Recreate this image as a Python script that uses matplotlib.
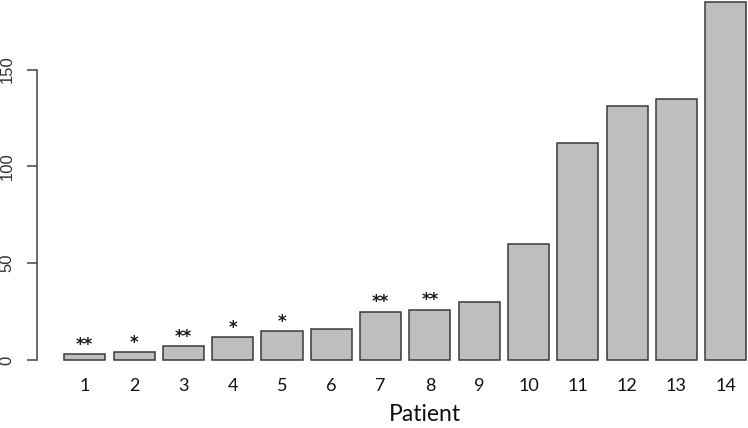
import matplotlib
matplotlib.use("Agg")
import matplotlib.pyplot as plt
import numpy as np

patients = [str(i) for i in range(1, 15)]
values = [3, 4, 7, 12, 15, 16, 25, 26, 30, 60, 112, 131, 135, 185]
stars = ["**", "*", "**", "*", "*", "", "**", "**", "", "", "", "", "", ""]
yticks = [0, 50, 100, 150]

W, H = 748, 428
fig = plt.figure(figsize=(W / 100, H / 100), dpi=100)

# axes placed in pixel terms (R-style barplot, width 1, space 0.2)
x0, x1 = 37, 748
y_zero, px_per_unit = 360, 1.936
ymin, ymax = -7.4, y_zero / px_per_unit
ax_bottom = y_zero + (-ymin) * px_per_unit
ax = fig.add_axes([x0 / W, 1 - ax_bottom / H, (x1 - x0) / W, ax_bottom / H])

centers = 0.7 + 1.2 * np.arange(len(values))
ax.bar(centers, values, width=1.0, color="#bebebe", edgecolor="#3a3a3a", linewidth=1.1)
ax.set_xlim(-0.464, -0.464 + (x1 - x0) / 41.08)
ax.set_ylim(ymin, ymax)

for c, v, s in zip(centers, values, stars):
    if s:
        ax.annotate(s, (c, v), xytext=(0, 3), textcoords="offset points",
                    ha="center", va="baseline", fontsize=12, family="DejaVu Sans",
                    fontweight="bold", color="#1a1a1a")

for side in ["top", "right", "bottom"]:
    ax.spines[side].set_visible(False)
ax.spines["left"].set_bounds(0, 150)
ax.spines["left"].set_color("#444444")
ax.spines["left"].set_linewidth(1.1)

ax.set_yticks(yticks)
ax.set_yticklabels([str(t) for t in yticks], rotation=90, va="center",
                   fontsize=12, family="Liberation Sans", color="#333333")
ax.tick_params(axis="y", length=7, width=1.1, color="#444444", pad=9)

ax.set_xticks(centers)
ax.set_xticklabels(patients, fontsize=13, family="Lato", color="#111111")
ax.tick_params(axis="x", length=0, pad=3)

fig.text(425 / W, 1 - 404 / H, "Patient", ha="center", va="top",
         fontsize=16.5, family="Lato", color="#111111")

fig.savefig("out.png", dpi=100, facecolor="white")
